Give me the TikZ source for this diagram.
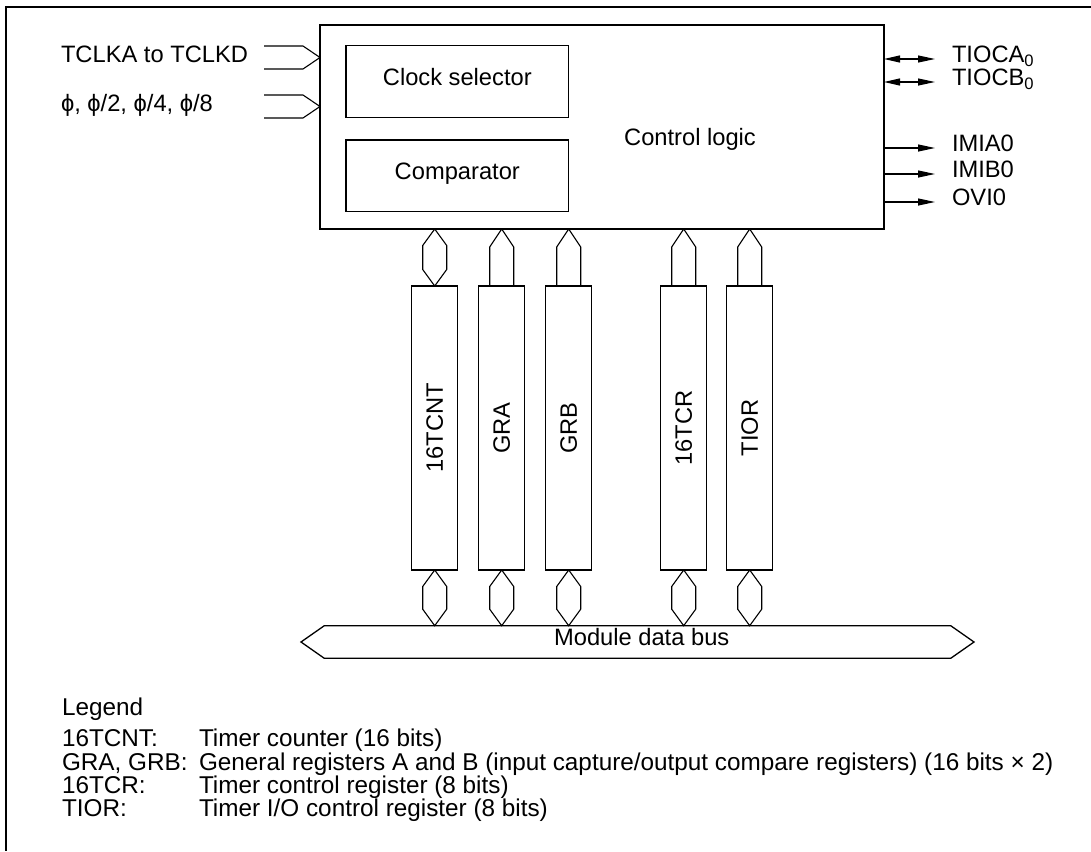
\documentclass[tikz,border=0pt]{standalone}
\usepackage{fontspec}
\setmainfont{Liberation Sans}
\usetikzlibrary{arrows.meta,calc}
\newcommand\hexlink[2]{\draw[conn] (#1) -- ($(#1)+(12,16.5)$) -- ($(#2)+(12,-16.5)$) -- (#2) -- ($(#2)+(-12,-16.5)$) -- ($(#1)+(-12,16.5)$) -- cycle;}
\newcommand\penlink[2]{\draw[conn] ($(#2)+(-12,0)$) -- ($(#1)+(-12,18)$) -- (#1) -- ($(#1)+(12,18)$) -- ($(#2)+(12,0)$);}
\begin{document}
\begin{tikzpicture}[x=1pt,y=-1pt,
  every node/.style={inner sep=0pt,outer sep=0pt,font=\fontsize{23.7}{27}\selectfont},
  lbl/.style={text height=0.716em,text depth=0pt},
  leglbl/.style={lbl,anchor=west,font=\fontsize{24.3}{28}\selectfont},
  box/.style={draw,line width=1.3pt},
  inbox/.style={box,lbl,minimum width=222.7pt,minimum height=71.6pt},
  reg/.style={box,minimum width=46pt,minimum height=284pt},
  conn/.style={line width=1.1pt,line join=miter},
  outarrow/.style={conn,-{Triangle[length=17pt,width=7pt]}},
  bidarrow/.style={conn,{Triangle[length=16pt,width=7pt]}-{Triangle[length=17pt,width=7pt]}}
]
\useasboundingbox (0,0) rectangle (1091,851);
% frame
\draw[line width=1.3pt] (1091,7) -- (6,7) -- (6,851);

% main block
\node[box,minimum width=564pt,minimum height=204pt] (ctrl) at (602,127) {};
\node[lbl] (ctrltext) at (690,142) {Control logic};
\node[inbox] (clk) at (457.3,81.5) {Clock selector};
\node[inbox] (cmp) at (457.3,175.8) {Comparator};

% inputs
\node[lbl,anchor=west] (tclk) at (61,58.7) {TCLKA to TCLKD};
\node[lbl,anchor=west] (phi) at (61,107.5) {ϕ, ϕ/2, ϕ/4, ϕ/8};
\coordinate (in1) at ($(ctrl.north west)+(0,32.5)$);
\coordinate (in2) at ($(ctrl.north west)+(0,81.5)$);
\draw[conn] ($(in1)+(-56,-11.5)$) -- ($(in1)+(-17,-11.5)$) -- (in1) -- ($(in1)+(-17,11.5)$) -- ($(in1)+(-56,11.5)$);
\draw[conn] ($(in2)+(-56,-11.5)$) -- ($(in2)+(-17,-11.5)$) -- (in2) -- ($(in2)+(-17,11.5)$) -- ($(in2)+(-56,11.5)$);

% outputs
\node[lbl,anchor=west] (tioca) at (952,59) {TIOCA\textsubscript{0}};
\node[lbl,anchor=west] (tiocb) at (952,82) {TIOCB\textsubscript{0}};
\node[lbl,anchor=west] (imia) at (952,148) {IMIA0};
\node[lbl,anchor=west] (imib) at (952,174) {IMIB0};
\node[lbl,anchor=west] (ovi) at (952,202) {OVI0};
\draw[bidarrow] (ctrl.east |- tioca.west) -- ($(tioca.west)+(-17,0)$);
\draw[bidarrow] (ctrl.east |- tiocb.west) -- ($(tiocb.west)+(-17,0)$);
\draw[outarrow] (ctrl.east |- imia.west) -- ($(imia.west)+(-17,0)$);
\draw[outarrow] (ctrl.east |- imib.west) -- ($(imib.west)+(-17,0)$);
\draw[outarrow] (ctrl.east |- ovi.west) -- ($(ovi.west)+(-17,0)$);

% registers
\node[reg] (cnt) at (434.7,428) {\rotatebox{90}{16TCNT}};
\node[reg] (gra) at (501.7,428) {\rotatebox{90}{GRA}};
\node[reg] (grb) at (568.7,428) {\rotatebox{90}{GRB}};
\node[reg] (tcr) at (683.7,428) {\rotatebox{90}{16TCR}};
\node[reg] (tior) at (749.7,428) {\rotatebox{90}{TIOR}};

% module data bus
\node[minimum width=626.4pt,minimum height=32.6pt] (bus) at (637.5,642) {};
\node[lbl] (bustext) at (641.7,642) {Module data bus};
\draw[box,line join=miter] (bus.north west) -- (bus.north east) -- ($(bus.east)+(23.3,0)$) -- (bus.south east) -- (bus.south west) -- ($(bus.west)+(-23.3,0)$) -- cycle;

% links to control logic
\coordinate (cntT) at (cnt.north |- ctrl.south);
\coordinate (graT) at (gra.north |- ctrl.south);
\coordinate (grbT) at (grb.north |- ctrl.south);
\coordinate (tcrT) at (tcr.north |- ctrl.south);
\coordinate (tiorT) at (tior.north |- ctrl.south);
\hexlink{cntT}{cnt.north}
\penlink{graT}{gra.north}
\penlink{grbT}{grb.north}
\penlink{tcrT}{tcr.north}
\penlink{tiorT}{tior.north}

% links to bus
\coordinate (cntB) at (cnt.south |- bus.north);
\coordinate (graB) at (gra.south |- bus.north);
\coordinate (grbB) at (grb.south |- bus.north);
\coordinate (tcrB) at (tcr.south |- bus.north);
\coordinate (tiorB) at (tior.south |- bus.north);
\hexlink{cnt.south}{cntB}
\hexlink{gra.south}{graB}
\hexlink{grb.south}{grbB}
\hexlink{tcr.south}{tcrB}
\hexlink{tior.south}{tiorB}

% legend
\node[leglbl] (leg) at (62,711.7) {Legend};
\node[leglbl] (k1) at (62,743) {16TCNT:};
\node[leglbl] (d1) at (199,743) {Timer counter (16 bits)};
\node[leglbl] (k2) at (62,767) {GRA, GRB:};
\node[leglbl] (d2) at (199,767) {General registers A and B (input capture/output compare registers) (16 bits × 2)};
\node[leglbl] (k3) at (62,790) {16TCR:};
\node[leglbl] (d3) at (199,790) {Timer control register (8 bits)};
\node[leglbl] (k4) at (62,813) {TIOR:};
\node[leglbl] (d4) at (199,813) {Timer I/O control register (8 bits)};
\end{tikzpicture}
\end{document}
